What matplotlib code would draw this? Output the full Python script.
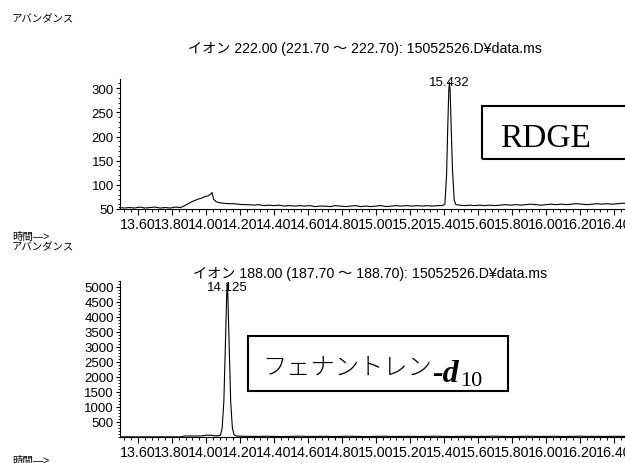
import matplotlib
matplotlib.use("Agg")
import matplotlib.pyplot as plt
from matplotlib.ticker import MultipleLocator, AutoMinorLocator, FixedLocator, FormatStrFormatter
from matplotlib.patches import Rectangle

plt.rcParams['font.family'] = ['Liberation Sans', 'Noto Sans CJK JP']

# イオン 222 (RDGE) のクロマトグラム
rt_222 = [13.49, 13.52, 13.55, 13.58, 13.61, 13.64, 13.67, 13.70, 13.73, 13.76, 13.79, 13.82, 13.85,
          13.87, 13.89, 13.91, 13.93, 13.95, 13.97, 13.99, 14.01, 14.025, 14.035, 14.045, 14.06,
          14.08, 14.10, 14.13, 14.16, 14.19, 14.22,
          14.25, 14.28, 14.31, 14.34, 14.37, 14.40, 14.43, 14.46, 14.49, 14.52, 14.55, 14.58, 14.61,
          14.64, 14.67, 14.70, 14.73, 14.76, 14.79, 14.82, 14.85, 14.88, 14.91, 14.94, 14.97, 15.00,
          15.03, 15.06, 15.09, 15.12, 15.15, 15.18, 15.21, 15.24, 15.27, 15.30, 15.33, 15.36, 15.39,
          15.405, 15.415, 15.422, 15.428, 15.432, 15.436, 15.442, 15.45, 15.46, 15.47,
          15.49, 15.52, 15.55, 15.58, 15.61, 15.64, 15.67, 15.70, 15.73, 15.76, 15.79, 15.82, 15.85,
          15.88, 15.91, 15.94, 15.97, 16.00, 16.03, 16.06, 16.09, 16.12, 16.15, 16.18, 16.21, 16.24,
          16.27, 16.30, 16.33, 16.36, 16.39, 16.42, 16.45, 16.48, 16.51, 16.54]
ab_222 = [53, 52, 53, 52, 54, 52, 53, 54, 52, 53, 52, 54, 53,
          56, 60, 64, 67, 70, 72, 75, 77, 80, 84, 70, 65,
          63, 62, 61, 61, 60, 59,
          59, 58, 59, 57, 58, 57, 58, 56, 57, 56, 57, 56, 57,
          55, 56, 56, 55, 57, 56, 55, 56, 57, 55, 56, 55, 56,
          57, 55, 56, 57, 56, 57, 56, 57, 56, 57, 56, 57, 57,
          60, 120, 220, 295, 312, 295, 220, 130, 68, 59,
          58, 57, 58, 57, 58, 57, 58, 57, 58, 59, 58, 59, 58,
          59, 60, 59, 58, 59, 60, 59, 60, 59, 60, 61, 60, 59,
          60, 61, 60, 61, 60, 61, 62, 61, 62, 61]

# イオン 188 (フェナントレン-d10) のクロマトグラム
rt_188 = [13.49, 13.52, 13.55, 13.58, 13.61, 13.64, 13.67, 13.70, 13.73, 13.76, 13.79, 13.82, 13.85,
          13.87, 13.90, 13.93, 13.96, 13.98, 14.00, 14.03, 14.05, 14.07,
          14.085, 14.095, 14.105, 14.115, 14.122, 14.125, 14.128, 14.135, 14.145, 14.155, 14.165,
          14.18, 14.21,
          14.25, 14.30, 14.35, 14.40, 14.45, 14.50, 14.55, 14.60, 14.65, 14.70, 14.75, 14.80, 14.85,
          14.90, 14.95, 15.00, 15.05, 15.10, 15.15, 15.20, 15.25, 15.30, 15.35, 15.40, 15.45, 15.50,
          15.55, 15.60, 15.65, 15.70, 15.75, 15.80, 15.85, 15.90, 15.95, 16.00, 16.05, 16.10, 16.15,
          16.20, 16.25, 16.30, 16.35, 16.40, 16.45, 16.50, 16.55]
ab_188 = [5, 4, 6, 5, 4, 6, 5, 4, 6, 5, 4, 6, 5,
          30, 35, 33, 36, 34, 60, 58, 40, 38,
          60, 300, 1200, 3300, 4800, 5080, 4800, 3300, 1200, 300, 70,
          30, 25,
          22, 18, 25, 20, 15, 22, 28, 18, 20, 24, 16, 21, 26,
          19, 15, 22, 25, 18, 20, 23, 17, 21, 26, 20, 16, 22,
          24, 18, 21, 27, 19, 15, 22, 25, 18, 20, 24, 17, 21,
          26, 19, 22, 18, 24, 20, 23, 19]

peak_222 = 15.432
peak_188 = 14.125
yticks_222 = [50, 100, 150, 200, 250, 300]
yticks_188 = [500, 1000, 1500, 2000, 2500, 3000, 3500, 4000, 4500, 5000]

W, H = 625, 464
fig = plt.figure(figsize=(W / 100, H / 100), dpi=100)


def fx(x):
    return x / W


def fy(y):
    return 1 - y / H


x_lo, x_hi = 13.494, 16.54
ax_w = (x_hi - x_lo) * 170 / W

ax1 = fig.add_axes([fx(120), fy(210), ax_w, (210 - 80) / H])
ax2 = fig.add_axes([fx(120), fy(438), ax_w, (438 - 282) / H])


def style(ax, yticks, ylim, yminor):
    ax.set_xlim(x_lo, x_hi)
    ax.set_ylim(*ylim)
    for s in ['top', 'right']:
        ax.spines[s].set_visible(False)
    for s in ['left', 'bottom']:
        ax.spines[s].set_linewidth(0.8)
    ax.xaxis.set_major_locator(MultipleLocator(0.2))
    ax.xaxis.set_minor_locator(AutoMinorLocator(5))
    ax.xaxis.set_major_formatter(FormatStrFormatter('%.2f'))
    ax.yaxis.set_major_locator(FixedLocator(yticks))
    ax.yaxis.set_minor_locator(MultipleLocator(yminor))
    ax.tick_params(axis='x', which='major', direction='out', length=4, width=0.8, pad=1.5, labelsize=10.3)
    ax.tick_params(axis='x', which='minor', direction='out', length=2.2, width=0.7)
    ax.tick_params(axis='y', which='major', direction='out', length=3, width=0.8, pad=1.5, labelsize=9.5)
    ax.tick_params(axis='y', which='minor', direction='out', length=1.5, width=0.6)
    ax.patch.set_visible(False)


style(ax1, yticks_222, (50, 319), 10)
style(ax2, yticks_188, (0, 5200), 100)

ax1.plot(rt_222, ab_222, color='black', lw=0.8, zorder=3, clip_on=False)
ax2.plot(rt_188, ab_188, color='black', lw=0.8, zorder=3)

# ピークトップの保持時間ラベル
ax1.annotate(f'{peak_222:.3f}', (peak_222, max(ab_222)), xytext=(0, 0), textcoords='offset points',
             ha='center', va='center', fontsize=9.5, zorder=2)
ax2.annotate(f'{peak_188:.3f}', (peak_188, max(ab_188)), xytext=(0, -2), textcoords='offset points',
             ha='center', va='center', fontsize=9.5, zorder=2)

# 軸の外側のテキスト
fig.text(fx(12), fy(19), 'アバンダンス', fontsize=7.5, va='center')
fig.text(fx(365), fy(49), 'イオン 222.00 (221.70 〜 222.70): 15052526.D¥data.ms',
         ha='center', va='center', fontsize=10.2)
fig.text(fx(12), fy(237), '時間—>', fontsize=7.5, va='center')
fig.text(fx(12), fy(247), 'アバンダンス', fontsize=7.5, va='center')
fig.text(fx(370), fy(274), 'イオン 188.00 (187.70 〜 188.70): 15052526.D¥data.ms',
         ha='center', va='center', fontsize=10.2)
fig.text(fx(12), fy(461), '時間—>', fontsize=7.5, va='center')

# 化合物名の枠
fig.add_artist(Rectangle((fx(482), fy(160)), (660 - 482) / W, (160 - 107) / H,
                         transform=fig.transFigure, fill=False, lw=1.5, ec='black'))
fig.text(fx(500), fy(139), 'RDGE', family='Liberation Serif', fontsize=24, va='center')

fig.add_artist(Rectangle((fx(248), fy(392)), (508 - 248) / W, (392 - 337) / H,
                         transform=fig.transFigure, fill=False, lw=1.5, ec='black'))
t1 = fig.text(fx(262), fy(368), 'フェナントレン', family='Noto Sans CJK JP',
              fontsize=17.5, va='center', fontweight='light')
fig.canvas.draw()
r = fig.canvas.get_renderer()
x_end = t1.get_window_extent(r).x1 / W
t2 = fig.text(x_end + 1 / W, fy(382), '-d', family='Liberation Serif', fontsize=23,
              fontweight='bold', fontstyle='italic', va='baseline')
fig.canvas.draw()
x_end2 = t2.get_window_extent(r).x1 / W
fig.text(x_end2 + 1 / W, fy(386), '10', family='Liberation Serif', fontsize=16, va='baseline')

fig.savefig('out.png', dpi=100)
